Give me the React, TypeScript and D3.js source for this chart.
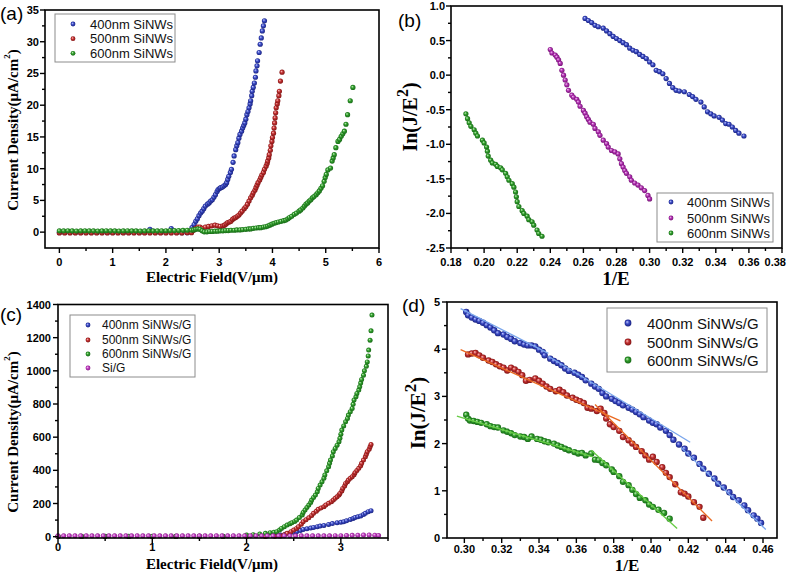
import React from "react";
import * as d3 from "d3";

type Pt = [number, number];

// ---------------- Panel (a) data : J (µA/cm²) vs E (V/µm) ----------------
const a400: Pt[] = [
  [0, -0.05], [0.1, -0.05], [0.2, -0.05], [0.3, -0.05], [0.4, -0.05], [0.5, -0.05], [0.6, -0.05], [0.7, -0.05],
  [0.8, -0.05], [0.9, -0.05], [1.0, -0.05], [1.1, -0.05], [1.2, -0.05], [1.3, -0.05], [1.4, -0.05], [1.5, -0.05],
  [1.6, -0.05], [1.7, 0.45], [1.8, -0.05], [1.9, -0.05], [2.0, -0.05], [2.1, 0.55], [2.2, -0.05], [2.3, -0.1], [2.4, -0.1],
  [2.49, 0.7], [2.53, 1.2], [2.56, 1.7], [2.59, 2.1], [2.62, 2.6], [2.65, 3.0], [2.68, 3.3], [2.71, 3.7], [2.74, 4.1],
  [2.78, 4.4], [2.81, 4.6], [2.84, 4.9], [2.87, 5.1], [2.9, 5.5], [2.93, 5.9], [2.96, 6.4], [2.98, 6.7], [3.01, 6.9],
  [3.03, 7.0], [3.06, 7.1], [3.09, 7.3], [3.12, 7.5], [3.14, 7.8], [3.16, 8.3], [3.18, 8.8], [3.21, 9.4], [3.23, 9.9],
  [3.26, 11.0], [3.28, 12.0], [3.31, 13.0], [3.33, 13.6], [3.35, 14.1], [3.37, 14.8], [3.39, 15.4], [3.42, 15.9],
  [3.44, 16.4], [3.46, 16.8], [3.48, 17.2], [3.5, 17.8], [3.52, 18.5], [3.54, 19.0], [3.56, 19.6], [3.58, 20.2],
  [3.59, 20.7], [3.61, 21.5], [3.62, 22.2], [3.64, 22.8], [3.66, 23.5], [3.68, 24.4], [3.69, 25.4], [3.71, 26.2],
  [3.72, 27.0], [3.75, 28.3], [3.77, 29.6], [3.79, 30.6], [3.81, 31.7], [3.83, 32.5], [3.85, 33.3],
];
const a500: Pt[] = [
  [0, -0.12], [0.1, -0.12], [0.2, -0.12], [0.3, -0.12], [0.4, -0.12], [0.5, -0.12], [0.6, -0.12], [0.7, -0.12],
  [0.8, -0.12], [0.9, -0.12], [1.0, -0.12], [1.1, -0.12], [1.2, -0.12], [1.3, -0.12], [1.4, -0.12], [1.5, -0.12],
  [1.6, -0.12], [1.7, -0.12], [1.8, -0.12], [1.9, -0.12], [2.0, -0.12], [2.1, -0.12], [2.2, -0.12], [2.3, -0.12],
  [2.4, -0.1], [2.48, -0.1], [2.52, 0.3], [2.56, 0.6], [2.6, 0.8], [2.64, 0.8], [2.68, 0.6], [2.74, 0.8], [2.8, 0.9],
  [2.86, 1.0], [2.92, 1.1], [2.97, 1.0], [3.02, 0.9], [3.07, 1.0], [3.1, 1.1], [3.13, 1.3], [3.16, 1.5], [3.19, 1.6],
  [3.22, 1.7], [3.25, 2.0], [3.28, 2.2], [3.31, 2.3], [3.34, 2.5], [3.37, 2.7], [3.4, 3.0], [3.43, 3.3], [3.47, 3.7],
  [3.5, 4.0], [3.53, 4.4], [3.56, 4.9], [3.59, 5.4], [3.62, 5.8], [3.64, 6.2], [3.67, 6.6], [3.69, 7.0], [3.71, 7.4],
  [3.73, 7.8], [3.76, 8.2], [3.78, 8.6], [3.8, 9.0], [3.83, 9.4], [3.85, 9.9], [3.88, 10.4], [3.9, 10.8], [3.91, 11.2],
  [3.93, 11.7], [3.94, 12.2], [3.96, 12.9], [3.97, 13.6], [3.99, 14.3], [4.0, 14.9], [4.02, 15.6], [4.03, 16.4],
  [4.04, 17.2], [4.05, 18.0], [4.06, 18.8], [4.07, 19.6], [4.09, 20.2], [4.1, 20.7], [4.12, 21.5], [4.13, 22.2],
  [4.15, 23.8], [4.18, 25.2],
];
const a600: Pt[] = [
  [0, 0.2], [0.08, 0.2], [0.16, 0.22], [0.24, 0.2], [0.32, 0.18], [0.4, 0.2], [0.48, 0.22], [0.56, 0.2], [0.64, 0.2],
  [0.72, 0.18], [0.8, 0.2], [0.88, 0.22], [0.96, 0.2], [1.04, 0.2], [1.12, 0.18], [1.2, 0.2], [1.28, 0.22], [1.36, 0.2],
  [1.44, 0.2], [1.52, 0.18], [1.6, 0.2], [1.68, 0.22], [1.76, 0.2], [1.84, 0.2], [1.92, 0.22], [2.0, 0.22], [2.08, 0.24],
  [2.16, 0.25], [2.24, 0.26], [2.32, 0.28], [2.4, 0.3], [2.48, 0.32], [2.52, 0.35], [2.56, 0.45], [2.6, 0.5], [2.64, 0.45],
  [2.68, 0.2], [2.72, 0.05], [2.77, 0.05], [2.82, 0.1], [2.87, 0.1], [2.92, 0.15], [2.97, 0.15], [3.02, 0.2], [3.07, 0.2],
  [3.12, 0.25], [3.17, 0.25], [3.22, 0.3], [3.28, 0.3], [3.33, 0.35], [3.39, 0.35], [3.44, 0.4], [3.5, 0.45], [3.55, 0.5],
  [3.59, 0.5], [3.64, 0.6], [3.69, 0.65], [3.74, 0.7], [3.78, 0.7], [3.83, 0.8], [3.87, 0.85], [3.91, 0.95], [3.95, 1.1],
  [3.99, 1.25], [4.03, 1.4], [4.07, 1.5], [4.11, 1.6], [4.16, 1.7], [4.21, 1.8], [4.25, 1.9], [4.29, 2.1], [4.32, 2.3],
  [4.36, 2.5], [4.41, 2.8], [4.45, 3.0], [4.5, 3.3], [4.53, 3.5], [4.57, 3.8], [4.6, 4.1], [4.63, 4.4], [4.66, 4.6],
  [4.69, 4.9], [4.72, 5.1], [4.75, 5.4], [4.78, 5.6], [4.82, 5.9], [4.85, 6.2], [4.88, 6.5], [4.91, 6.9], [4.94, 7.3],
  [4.97, 8.0], [4.99, 8.6], [5.01, 9.1], [5.04, 9.8], [5.09, 10.1], [5.12, 11.2], [5.14, 11.7], [5.16, 12.2], [5.19, 13.3],
  [5.23, 14.3], [5.26, 14.6], [5.29, 15.1], [5.32, 15.5], [5.35, 15.9], [5.38, 17.0], [5.41, 18.5], [5.46, 20.7], [5.51, 22.8],
];
const aLabels = ["400nm SiNWs", "500nm SiNWs", "600nm SiNWs"];
const aXMajor = [0, 1, 2, 3, 4, 5, 6];
const aXMinor = [0.5, 1.5, 2.5, 3.5, 4.5, 5.5];
const aYMajor = [0, 5, 10, 15, 20, 25, 30, 35];
const aYMinor = [2.5, 7.5, 12.5, 17.5, 22.5, 27.5, 32.5];

// ---------------- Panel (b) data : ln(J/E²) vs 1/E ----------------
const b400: Pt[] = [
  [0.261, 0.82], [0.263, 0.79], [0.265, 0.76], [0.267, 0.72], [0.269, 0.7], [0.272, 0.68], [0.274, 0.64], [0.276, 0.6],
  [0.278, 0.56], [0.28, 0.53], [0.282, 0.5], [0.284, 0.47], [0.286, 0.44], [0.288, 0.39], [0.29, 0.36], [0.292, 0.34],
  [0.294, 0.3], [0.296, 0.27], [0.298, 0.24], [0.3, 0.19], [0.302, 0.15], [0.304, 0.07], [0.306, 0.05], [0.308, 0.02],
  [0.31, -0.05], [0.312, -0.12], [0.314, -0.18], [0.316, -0.22], [0.318, -0.23], [0.321, -0.24], [0.324, -0.28],
  [0.326, -0.31], [0.328, -0.35], [0.331, -0.39], [0.333, -0.46], [0.335, -0.53], [0.337, -0.56], [0.339, -0.59],
  [0.342, -0.61], [0.344, -0.65], [0.346, -0.7], [0.348, -0.71], [0.35, -0.75], [0.352, -0.8], [0.354, -0.84], [0.357, -0.88],
];
const b500: Pt[] = [
  [0.24, 0.37], [0.241, 0.32], [0.243, 0.29], [0.244, 0.26], [0.245, 0.22], [0.246, 0.17], [0.247, 0.07], [0.248, 0.0],
  [0.249, -0.07], [0.25, -0.14], [0.251, -0.22], [0.253, -0.29], [0.254, -0.32], [0.256, -0.35], [0.257, -0.39],
  [0.258, -0.45], [0.26, -0.51], [0.261, -0.55], [0.262, -0.6], [0.263, -0.64], [0.264, -0.68], [0.266, -0.71],
  [0.267, -0.77], [0.269, -0.82], [0.27, -0.87], [0.272, -0.94], [0.274, -0.99], [0.275, -1.04], [0.277, -1.09],
  [0.279, -1.11], [0.281, -1.14], [0.282, -1.21], [0.283, -1.28], [0.284, -1.33], [0.285, -1.38], [0.286, -1.42],
  [0.288, -1.47], [0.289, -1.52], [0.291, -1.56], [0.293, -1.59], [0.295, -1.63], [0.297, -1.67], [0.299, -1.74], [0.3, -1.79],
];
const b600: Pt[] = [
  [0.189, -0.56], [0.19, -0.63], [0.191, -0.69], [0.192, -0.74], [0.194, -0.79], [0.195, -0.84], [0.196, -0.88],
  [0.199, -0.94], [0.2, -0.98], [0.2015, -1.04], [0.202, -1.1], [0.2025, -1.17], [0.204, -1.23], [0.205, -1.27],
  [0.207, -1.29], [0.208, -1.32], [0.21, -1.34], [0.211, -1.37], [0.213, -1.42], [0.214, -1.47], [0.215, -1.52],
  [0.217, -1.57], [0.218, -1.62], [0.219, -1.69], [0.2195, -1.76], [0.22, -1.83], [0.221, -1.9], [0.223, -1.96],
  [0.224, -2.0], [0.226, -2.04], [0.227, -2.09], [0.229, -2.12], [0.23, -2.17], [0.232, -2.24], [0.233, -2.29], [0.235, -2.33],
];
const bLabels = ["400nm SiNWs", "500nm SiNWs", "600nm SiNWs"];
const bXMajor = [0.18, 0.2, 0.22, 0.24, 0.26, 0.28, 0.3, 0.32, 0.34, 0.36, 0.38];
const bXMinor = [0.19, 0.21, 0.23, 0.25, 0.27, 0.29, 0.31, 0.33, 0.35, 0.37];
const bYMajor = [-2.5, -2.0, -1.5, -1.0, -0.5, 0.0, 0.5, 1.0];
const bYMinor = [-2.25, -1.75, -1.25, -0.75, -0.25, 0.25, 0.75];

// ---------------- Panel (c) data : J (µA/cm²) vs E (V/µm), with graphene ----------------
const c400: Pt[] = [
  [0, 1], [0.25, 1], [0.5, 1], [0.75, 1], [1.0, 1], [1.25, 1], [1.5, 1], [1.75, 1], [2.0, 2], [2.2, 3], [2.3, 5],
  [2.36, 10], [2.41, 15], [2.46, 20], [2.5, 26], [2.53, 30], [2.57, 37], [2.6, 44], [2.64, 48], [2.68, 52], [2.71, 56],
  [2.75, 60], [2.78, 64], [2.82, 68], [2.87, 74], [2.91, 79], [2.96, 84], [3.0, 87], [3.03, 90], [3.06, 96], [3.1, 104],
  [3.13, 110], [3.15, 116], [3.18, 120], [3.21, 125], [3.24, 133], [3.26, 141], [3.29, 151], [3.32, 157],
];
const c500: Pt[] = [
  [0, 1], [0.25, 1], [0.5, 1], [0.75, 1], [1.0, 1], [1.25, 1], [1.5, 1], [1.75, 1], [2.0, 1], [2.2, 1], [2.3, 2],
  [2.36, 4], [2.4, 12], [2.43, 20], [2.47, 30], [2.5, 40], [2.53, 50], [2.55, 60], [2.58, 75], [2.6, 90], [2.63, 102],
  [2.66, 114], [2.69, 128], [2.71, 141], [2.74, 153], [2.76, 165], [2.79, 173], [2.82, 181], [2.84, 191], [2.87, 201],
  [2.9, 211], [2.92, 221], [2.94, 231], [2.96, 241], [2.98, 251], [2.99, 261], [3.01, 276], [3.02, 291], [3.04, 306],
  [3.05, 321], [3.07, 331], [3.08, 341], [3.1, 352], [3.12, 362], [3.14, 374], [3.15, 386], [3.17, 399], [3.19, 412],
  [3.21, 427], [3.22, 442], [3.24, 462], [3.26, 482], [3.27, 497], [3.28, 512], [3.3, 527], [3.31, 542], [3.32, 556],
];
const c600: Pt[] = [
  [0, 3], [0.25, 3], [0.5, 3], [0.75, 3], [1.0, 3], [1.25, 3], [1.5, 3], [1.75, 3], [2.0, 10], [2.07, 12], [2.14, 16],
  [2.2, 20], [2.25, 24], [2.29, 27], [2.32, 30], [2.35, 40], [2.37, 50], [2.4, 60], [2.43, 70], [2.46, 78], [2.48, 84],
  [2.51, 92], [2.53, 100], [2.56, 115], [2.59, 131], [2.6, 146], [2.62, 161], [2.64, 176], [2.66, 191], [2.68, 206],
  [2.69, 221], [2.71, 236], [2.73, 251], [2.75, 271], [2.76, 291], [2.78, 311], [2.8, 331], [2.82, 352], [2.83, 372],
  [2.85, 397], [2.87, 422], [2.88, 442], [2.89, 462], [2.91, 487], [2.92, 512], [2.94, 532], [2.96, 552], [2.98, 573],
  [2.99, 593], [3.0, 618], [3.01, 643], [3.03, 668], [3.05, 693], [3.07, 713], [3.08, 733], [3.1, 753], [3.12, 773],
  [3.13, 798], [3.14, 824], [3.16, 844], [3.17, 864], [3.19, 884], [3.2, 904], [3.21, 926], [3.22, 948], [3.24, 974],
  [3.25, 1000], [3.27, 1027], [3.28, 1054], [3.29, 1090], [3.295, 1125], [3.31, 1185], [3.32, 1241], [3.33, 1336],
];
const cSiG: Pt[] = [
  [0, 5], [0.06, 5], [0.12, 5], [0.18, 5], [0.24, 5], [0.3, 5], [0.36, 5], [0.42, 5], [0.48, 5], [0.54, 5], [0.6, 5],
  [0.66, 5], [0.72, 5], [0.78, 5], [0.84, 5], [0.9, 5], [0.96, 5], [1.02, 5], [1.08, 5], [1.14, 5], [1.2, 5], [1.26, 5],
  [1.32, 5], [1.38, 5], [1.44, 5], [1.5, 5], [1.56, 5], [1.62, 5], [1.68, 5], [1.74, 5], [1.8, 5], [1.86, 5], [1.92, 5],
  [1.98, 5], [2.04, 5], [2.1, 5], [2.16, 5], [2.22, 5], [2.28, 5], [2.34, 5], [2.4, 5], [2.46, 5], [2.52, 5], [2.58, 5],
  [2.64, 5], [2.7, 5], [2.76, 5], [2.82, 5], [2.88, 5], [2.94, 6], [3.0, 6], [3.06, 7], [3.12, 8], [3.18, 9], [3.24, 10],
  [3.3, 10], [3.36, 9], [3.4, 7],
];
const cLabels = ["400nm SiNWs/G", "500nm SiNWs/G", "600nm SiNWs/G", "Si/G"];
const cXMajor = [0, 1, 2, 3];
const cXMinor = [0.5, 1.5, 2.5, 3.5];
const cYMajor = [0, 200, 400, 600, 800, 1000, 1200, 1400];
const cYMinor = [100, 300, 500, 700, 900, 1100, 1300];

// ---------------- Panel (d) data : ln(J/E²) vs 1/E, with graphene ----------------
const d400: Pt[] = [
  [0.301, 4.79], [0.302, 4.72], [0.304, 4.67], [0.306, 4.63], [0.308, 4.6], [0.31, 4.56], [0.312, 4.51], [0.314, 4.46],
  [0.316, 4.4], [0.318, 4.34], [0.321, 4.31], [0.323, 4.26], [0.325, 4.22], [0.327, 4.17], [0.33, 4.13], [0.332, 4.1],
  [0.334, 4.08], [0.336, 4.08], [0.338, 4.06], [0.34, 3.99], [0.342, 3.94], [0.343, 3.87], [0.346, 3.8], [0.348, 3.75],
  [0.35, 3.71], [0.352, 3.66], [0.354, 3.59], [0.356, 3.54], [0.359, 3.5], [0.361, 3.46], [0.363, 3.41], [0.365, 3.34],
  [0.368, 3.27], [0.37, 3.21], [0.372, 3.16], [0.374, 3.07], [0.376, 3.0], [0.379, 2.95], [0.381, 2.9], [0.383, 2.86],
  [0.385, 2.81], [0.388, 2.76], [0.39, 2.72], [0.392, 2.67], [0.394, 2.62], [0.396, 2.56], [0.399, 2.49], [0.401, 2.44],
  [0.403, 2.41], [0.405, 2.34], [0.408, 2.27], [0.41, 2.18], [0.412, 2.08], [0.415, 1.98], [0.418, 1.89], [0.42, 1.79],
  [0.423, 1.7], [0.426, 1.57], [0.428, 1.47], [0.431, 1.36], [0.434, 1.26], [0.436, 1.15], [0.439, 1.07], [0.442, 0.97],
  [0.444, 0.87], [0.447, 0.8], [0.45, 0.69], [0.452, 0.59], [0.455, 0.48], [0.457, 0.41], [0.459, 0.32],
];
const d500: Pt[] = [
  [0.302, 3.89], [0.304, 3.91], [0.306, 3.92], [0.308, 3.87], [0.31, 3.82], [0.313, 3.76], [0.315, 3.73], [0.317, 3.68],
  [0.319, 3.64], [0.321, 3.61], [0.323, 3.55], [0.325, 3.61], [0.327, 3.57], [0.329, 3.52], [0.331, 3.45], [0.333, 3.33],
  [0.335, 3.35], [0.338, 3.38], [0.34, 3.33], [0.342, 3.27], [0.344, 3.21], [0.346, 3.16], [0.349, 3.11], [0.351, 3.14],
  [0.353, 3.09], [0.355, 3.02], [0.358, 2.97], [0.36, 2.93], [0.362, 2.9], [0.364, 2.86], [0.366, 2.76], [0.368, 2.74],
  [0.371, 2.69], [0.373, 2.74], [0.375, 2.65], [0.376, 2.53], [0.378, 2.41], [0.38, 2.35], [0.383, 2.27], [0.385, 2.14],
  [0.388, 2.07], [0.39, 2.0], [0.392, 1.93], [0.395, 1.84], [0.397, 1.75], [0.399, 1.66], [0.401, 1.72], [0.403, 1.61],
  [0.406, 1.5], [0.408, 1.38], [0.41, 1.29], [0.413, 1.14], [0.416, 0.97], [0.418, 0.94], [0.42, 0.88], [0.423, 0.76],
  [0.426, 0.66], [0.428, 0.43],
];
const d600: Pt[] = [
  [0.301, 2.61], [0.302, 2.53], [0.303, 2.49], [0.305, 2.48], [0.307, 2.46], [0.309, 2.44], [0.312, 2.41], [0.314, 2.37],
  [0.316, 2.35], [0.318, 2.34], [0.321, 2.28], [0.323, 2.25], [0.325, 2.22], [0.327, 2.18], [0.33, 2.15], [0.332, 2.14],
  [0.334, 2.1], [0.336, 2.15], [0.339, 2.1], [0.341, 2.08], [0.343, 2.05], [0.345, 2.03], [0.348, 2.0], [0.35, 1.96],
  [0.352, 1.93], [0.354, 1.89], [0.356, 1.86], [0.359, 1.82], [0.361, 1.79], [0.363, 1.8], [0.365, 1.75], [0.368, 1.79],
  [0.37, 1.66], [0.372, 1.65], [0.374, 1.59], [0.376, 1.54], [0.379, 1.45], [0.38, 1.4], [0.383, 1.31], [0.385, 1.19],
  [0.388, 1.12], [0.39, 1.02], [0.392, 0.93], [0.394, 0.85], [0.397, 0.8], [0.399, 0.71], [0.401, 0.66], [0.404, 0.6],
  [0.407, 0.53], [0.41, 0.41],
];
// linear fit segments: [x1, y1, x2, y2]
const d400Fits: number[][] = [[0.298, 4.86, 0.345, 3.91], [0.345, 3.85, 0.421, 2.03], [0.416, 1.92, 0.4615, 0.18]];
const d500Fits: number[][] = [[0.298, 3.99, 0.3836, 2.48], [0.37, 2.83, 0.4327, 0.36]];
const d600Fits: number[][] = [[0.296, 2.58, 0.369, 1.72], [0.368, 1.86, 0.414, 0.2]];
const dLabels = ["400nm SiNWs/G", "500nm SiNWs/G", "600nm SiNWs/G"];
const dXMajor = [0.3, 0.32, 0.34, 0.36, 0.38, 0.4, 0.42, 0.44, 0.46];
const dXMinor = [0.31, 0.33, 0.35, 0.37, 0.39, 0.41, 0.43, 0.45];
const dYMajor = [0, 1, 2, 3, 4, 5];
const dYMinor = [0.5, 1.5, 2.5, 3.5, 4.5];

// ---------------- rendering ----------------
const SANS = "'Liberation Sans', Arial, Helvetica, sans-serif";
const SERIF = "'Liberation Serif', 'Times New Roman', Times, serif";
const W = 787;
const H = 575;

const BALLS: Record<string, [string, string, string]> = {
  blue: ["#c4cbff", "#3b4bc4", "#141c78"],
  red: ["#ffc4c4", "#c03030", "#7a1010"],
  green: ["#c8f5c0", "#2f9a2a", "#146414"],
  purple: ["#f7c8f7", "#b030b0", "#6e106e"],
  magenta: ["#fbd0fb", "#c040c0", "#801880"],
};
const FIT = { blue: "#79a5ec", red: "#ea6a22", green: "#66cc44" };

type S = { data: Pt[]; color: string };

interface PanelProps {
  left: number; right: number; top: number; bottom: number;
  xDomain: [number, number]; yDomain: [number, number];
  xMajor: number[]; xMinor: number[]; yMajor: number[]; yMinor: number[];
  xFmt: (v: number) => string; yFmt: (v: number) => string;
  xLabelY: number; yLabelGap: number;
  r: number; series: S[];
  fits?: { segs: number[][]; color: string }[];
}

function Panel(p: PanelProps) {
  const x = d3.scaleLinear().domain(p.xDomain).range([p.left, p.right]);
  const y = d3.scaleLinear().domain(p.yDomain).range([p.bottom, p.top]);
  const tk = { stroke: "#000", strokeWidth: 1.4 };
  return (
    <g>
      {p.series.map((s, si) => (
        <g key={si}>
          {s.data.map((d, i) => (
            <circle key={i} cx={x(d[0])} cy={y(d[1])} r={p.r} fill={`url(#ball-${s.color})`} />
          ))}
        </g>
      ))}
      {p.fits &&
        p.fits.map((f, fi) =>
          f.segs.map((sg, i) => (
            <line key={fi + "-" + i} x1={x(sg[0])} y1={y(sg[1])} x2={x(sg[2])} y2={y(sg[3])}
              stroke={f.color} strokeWidth={1.3} />
          ))
        )}
      <rect x={p.left} y={p.top} width={p.right - p.left} height={p.bottom - p.top}
        fill="none" stroke="#000" strokeWidth={1.6} />
      {p.xMajor.map((v, i) => {
        const lx = x(v);
        const nearEdge = lx + 12 > W;
        return (
          <g key={"xm" + i}>
            <line x1={lx} x2={lx} y1={p.bottom} y2={p.bottom + 5} {...tk} />
            <text x={nearEdge ? W - 1 : lx} y={p.xLabelY} textAnchor={nearEdge ? "end" : "middle"}
              dominantBaseline="central" fontFamily={SANS} fontWeight="bold" fontSize={11}>{p.xFmt(v)}</text>
          </g>
        );
      })}
      {p.xMinor.map((v, i) => (
        <line key={"xn" + i} x1={x(v)} x2={x(v)} y1={p.bottom} y2={p.bottom + 3} {...tk} />
      ))}
      {p.yMajor.map((v, i) => (
        <g key={"ym" + i}>
          <line x1={p.left - 5} x2={p.left} y1={y(v)} y2={y(v)} {...tk} />
          <text x={p.left - p.yLabelGap} y={y(v)} textAnchor="end" dominantBaseline="central"
            fontFamily={SANS} fontWeight="bold" fontSize={11}>{p.yFmt(v)}</text>
        </g>
      ))}
      {p.yMinor.map((v, i) => (
        <line key={"yn" + i} x1={p.left - 3} x2={p.left} y1={y(v)} y2={y(v)} {...tk} />
      ))}
    </g>
  );
}

function Legend({ x, y, w, h, rows, mx, tx, labels, colors, fs, r }:
  { x: number; y: number; w: number; h: number; rows: number[]; mx: number; tx: number; labels: string[]; colors: string[]; fs: number; r: number }) {
  return (
    <g>
      <rect x={x} y={y} width={w} height={h} fill="#fff" stroke="#8c8c8c" strokeWidth={1} />
      {labels.map((l, i) => (
        <g key={i}>
          <circle cx={mx} cy={rows[i]} r={r} fill={`url(#ball-${colors[i]})`} />
          <text x={tx} y={rows[i]} dominantBaseline="central" fontFamily={SANS} fontSize={fs} fill="#111">{l}</text>
        </g>
      ))}
    </g>
  );
}

const fmt0 = d3.format("d");
const fmt1 = (v: number) => d3.format(".1f")(v).replace("−", "-");
const fmt2 = d3.format(".2f");

export default function App() {
  return (
    <svg width={W} height={H} style={{ position: "absolute", left: 0, top: 0, background: "#fff" }}>
      <defs>
        {Object.entries(BALLS).map(([k, c]) => (
          <radialGradient key={k} id={`ball-${k}`} cx="50%" cy="50%" r="55%" fx="35%" fy="32%">
            <stop offset="0%" stopColor={c[0]} />
            <stop offset="45%" stopColor={c[1]} />
            <stop offset="100%" stopColor={c[2]} />
          </radialGradient>
        ))}
      </defs>
      <rect x={0} y={0} width={W} height={H} fill="#fff" />

      {/* (a) */}
      <Panel left={45} right={379} top={10} bottom={248} xDomain={[-0.27, 6]} yDomain={[-2.5, 35]}
        xMajor={aXMajor} xMinor={aXMinor} yMajor={aYMajor} yMinor={aYMinor} xFmt={fmt0} yFmt={fmt0}
        xLabelY={262} yLabelGap={6} r={2.6}
        series={[{ data: a400, color: "blue" }, { data: a500, color: "red" }, { data: a600, color: "green" }]} />
      <Legend x={55} y={14} w={120} h={48} rows={[24, 38.7, 53.3]} mx={73} tx={90} labels={aLabels}
        colors={["blue", "red", "green"]} fs={13} r={2.4} />
      <text x={0} y={20} fontFamily={SANS} fontSize={19}>(a)</text>
      <text transform="translate(13,130) rotate(-90)" textAnchor="middle" dominantBaseline="central"
        fontFamily={SERIF} fontWeight="bold" fontSize={15}>
        Current Density(μA/cm<tspan dy={-6} fontSize={9}>2</tspan><tspan dy={6}>)</tspan>
      </text>
      <text x={212} y={277} textAnchor="middle" dominantBaseline="central" fontFamily={SERIF}
        fontWeight="bold" fontSize={15}>Electric Field(V/μm)</text>

      {/* (b) */}
      <Panel left={451} right={782} top={6} bottom={248} xDomain={[0.18, 0.38]} yDomain={[-2.5, 1.0]}
        xMajor={bXMajor} xMinor={bXMinor} yMajor={bYMajor} yMinor={bYMinor} xFmt={fmt2} yFmt={fmt1}
        xLabelY={262} yLabelGap={6} r={2.6}
        series={[{ data: b400, color: "blue" }, { data: b500, color: "purple" }, { data: b600, color: "green" }]} />
      <Legend x={657} y={193} w={116} h={49} rows={[202, 218, 233]} mx={671} tx={687} labels={bLabels}
        colors={["blue", "purple", "green"]} fs={13} r={2.4} />
      <text x={398} y={27} fontFamily={SANS} fontSize={19}>(b)</text>
      <text transform="translate(410,117) rotate(-90)" textAnchor="middle" dominantBaseline="central"
        fontFamily={SERIF} fontWeight="bold" fontSize={20}>
        In(J/E<tspan dy={-8} fontSize={16}>2</tspan><tspan dy={8}>)</tspan>
      </text>
      <text x={616} y={278} textAnchor="middle" dominantBaseline="central" fontFamily={SERIF}
        fontWeight="bold" fontSize={19}>1/E</text>

      {/* (c) */}
      <Panel left={58} right={388} top={304.5} bottom={538} xDomain={[0, 3.5]} yDomain={[-8, 1400]}
        xMajor={cXMajor} xMinor={cXMinor} yMajor={cYMajor} yMinor={cYMinor} xFmt={fmt0} yFmt={fmt0}
        xLabelY={547} yLabelGap={7} r={2.5}
        series={[{ data: c400, color: "blue" }, { data: c500, color: "red" }, { data: c600, color: "green" }, { data: cSiG, color: "magenta" }]} />
      <Legend x={70} y={315} w={125} h={62} rows={[325, 340, 354, 368]} mx={88} tx={102} labels={cLabels}
        colors={["blue", "red", "green", "magenta"]} fs={12} r={2.4} />
      <text x={0} y={321} fontFamily={SANS} fontSize={19}>(c)</text>
      <text transform="translate(13,432) rotate(-90)" textAnchor="middle" dominantBaseline="central"
        fontFamily={SERIF} fontWeight="bold" fontSize={15}>
        Current Density(μA/cm<tspan dy={-6} fontSize={9}>2</tspan><tspan dy={6}>)</tspan>
      </text>
      <text x={212} y={564} textAnchor="middle" dominantBaseline="central" fontFamily={SERIF}
        fontWeight="bold" fontSize={15}>Electric Field(V/μm)</text>

      {/* (d) */}
      <Panel left={447} right={777} top={302} bottom={538} xDomain={[0.2907, 0.4675]} yDomain={[0, 5]}
        xMajor={dXMajor} xMinor={dXMinor} yMajor={dYMajor} yMinor={dYMinor} xFmt={fmt2} yFmt={fmt0}
        xLabelY={549} yLabelGap={7} r={3.2}
        series={[{ data: d400, color: "blue" }, { data: d500, color: "red" }, { data: d600, color: "green" }]}
        fits={[{ segs: d400Fits, color: FIT.blue }, { segs: d500Fits, color: FIT.red }, { segs: d600Fits, color: FIT.green }]} />
      <Legend x={607} y={308} w={160} h={64} rows={[323, 342, 360]} mx={628} tx={647} labels={dLabels}
        colors={["blue", "red", "green"]} fs={15} r={3.4} />
      <text x={402} y={312} fontFamily={SANS} fontSize={19}>(d)</text>
      <text transform="translate(418,413) rotate(-90)" textAnchor="middle" dominantBaseline="central"
        fontFamily={SERIF} fontWeight="bold" fontSize={21}>
        In(J/E<tspan dy={-8} fontSize={17}>2</tspan><tspan dy={8}>)</tspan>
      </text>
      <text x={627} y={571} textAnchor="middle" fontFamily={SERIF}
        fontWeight="bold" fontSize={17}>1/E</text>
    </svg>
  );
}
